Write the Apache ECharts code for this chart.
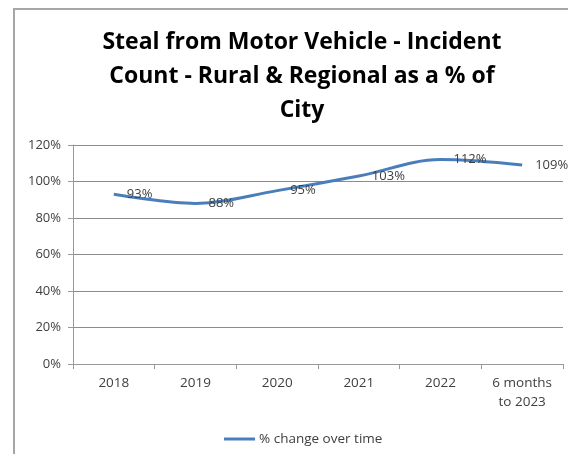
<!DOCTYPE html>
<html>
<head>
<meta charset="utf-8">
<script src="https://cdn.jsdelivr.net/npm/echarts@6/dist/echarts.min.js"></script>
<style>
  html, body { margin: 0; padding: 0; background: #fff; }
  #wrap { position: relative; width: 568px; height: 454px; }
  #frame {
    position: absolute; left: 13px; top: 8px; right: 0; bottom: 0;
    border-top: 2px solid #a6a6a6; border-left: 2px solid #a6a6a6;
    pointer-events: none;
  }
  #chart { width: 568px; height: 454px; }
</style>
</head>
<body>
<div id="wrap">
  <div id="chart"></div>
  <div id="frame"></div>
</div>
<script>
// categories and values
const categories = ['2018', '2019', '2020', '2021', '2022', '6 months\nto 2023'];
const pctValues = [93, 88, 95, 103, 112, 109];
const yTicks = { min: 0, max: 120, step: 20 };
const seriesName = '% change over time';

const font = '"Open Sans", Lato, sans-serif';

let chart = echarts.init(document.getElementById('chart'));
let option = {
  backgroundColor: '#fff',
  animation: false,
  title: {
    text: 'Steal from Motor Vehicle - Incident\nCount - Rural & Regional as a % of\nCity',
    left: 297,
    top: 20,
    textAlign: 'center',
    textStyle: {
      fontFamily: font,
      fontSize: 23,
      fontWeight: 'bold',
      color: '#000',
      lineHeight: 34
    }
  },
  grid: {
    left: 73,
    right: 5,
    top: 145,
    bottom: 90
  },
  legend: {
    data: [seriesName],
    top: 427,
    left: 219,
    icon: 'rect',
    itemWidth: 31,
    itemHeight: 3,
    itemGap: 4,
    textStyle: {
      fontFamily: font,
      fontSize: 13.5,
      color: '#404040',
      padding: [0, 0, 0, -1]
    }
  },
  xAxis: {
    type: 'category',
    data: categories,
    boundaryGap: true,
    axisLine: { lineStyle: { color: '#999' } },
    axisTick: { show: true, length: 5, lineStyle: { color: '#999' } },
    axisLabel: {
      fontFamily: font,
      fontSize: 13.5,
      color: '#404040',
      margin: 10,
      lineHeight: 19,
      interval: 0
    }
  },
  yAxis: {
    type: 'value',
    min: yTicks.min,
    max: yTicks.max,
    interval: yTicks.step,
    axisLine: { show: true, lineStyle: { color: '#999' } },
    axisTick: { show: true, length: 5, lineStyle: { color: '#999' } },
    splitLine: { lineStyle: { color: '#8c8c8c', width: 1 } },
    axisLabel: {
      formatter: '{value}%',
      fontFamily: font,
      fontSize: 13,
      color: '#404040',
      margin: 12
    }
  },
  series: [
    {
      name: seriesName,
      type: 'line',
      data: pctValues,
      smooth: 0.35,
      showSymbol: true,
      symbol: 'circle',
      symbolSize: 0,
      lineStyle: { color: '#4a7ebb', width: 3 },
      itemStyle: { color: '#4a7ebb' },
      label: {
        show: true,
        position: 'right',
        distance: 13,
        formatter: '{c}%',
        fontFamily: font,
        fontSize: 13,
        color: '#404040'
      }
    }
  ]
};
chart.setOption(option);
</script>
</body>
</html>
